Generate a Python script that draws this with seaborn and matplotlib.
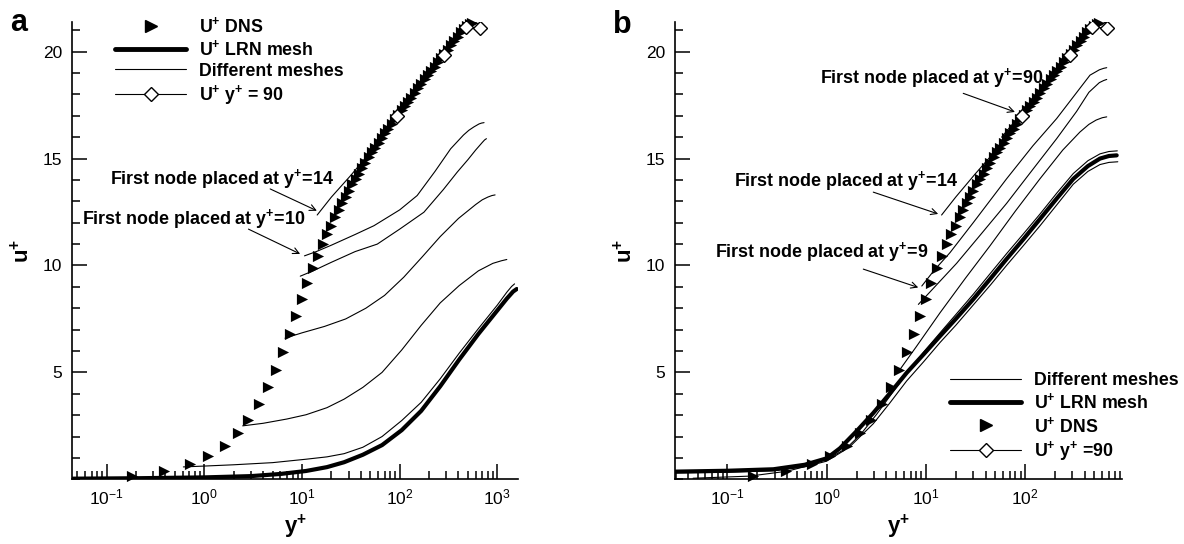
import matplotlib
matplotlib.use("Agg")
import matplotlib.pyplot as plt
import seaborn as sns
import pandas as pd
from matplotlib.lines import Line2D
from matplotlib.ticker import FixedLocator, MultipleLocator, LogLocator, NullFormatter, LogFormatterSciNotation

# ---------------- data ----------------
# DNS profile (same in both panels)
dns_y = [0.18, 0.39, 0.71, 1.09, 1.61, 2.19, 2.83, 3.6, 4.48, 5.4, 6.4, 7.6, 8.7, 10.0, 11.2,
         12.9, 14.5, 16.3, 18.1, 20.0, 22.0, 23.8, 25.7, 27.9, 30.2, 32.7, 35.3, 38.1, 41.2,
         44.5, 48.1, 52.0, 56.2, 60.7, 65.6, 70.9, 76.6, 82.8, 89.5, 96.7, 104.5, 113, 122,
         132, 143, 155, 167, 181, 195, 211, 228, 246, 266, 287, 310, 335, 362, 391, 422, 455,
         490, 525, 555]
dns_u = [0.17, 0.39, 0.70, 1.08, 1.57, 2.15, 2.78, 3.5, 4.3, 5.1, 5.95, 6.8, 7.66, 8.45, 9.2,
         9.86, 10.45, 11.0, 11.47, 11.86, 12.25, 12.6, 12.9, 13.2, 13.5, 13.8, 14.05, 14.3, 14.55,
         14.8, 15.05, 15.3, 15.5, 15.75, 15.95, 16.2, 16.4, 16.6, 16.85, 17.05, 17.25, 17.45, 17.65,
         17.85, 18.05, 18.3, 18.5, 18.7, 18.9, 19.1, 19.3, 19.5, 19.7, 19.9, 20.1, 20.3, 20.5, 20.7,
         20.9, 21.05, 21.2, 21.3, 21.35]

# U+ with first node at y+ = 90 (diamonds)
dia_y = [93, 282, 475, 663]
dia_u = [17.0, 19.82, 21.15, 21.1]

# ---- panel a ----
a_lrn_y = [0.045, 0.2, 1, 3, 6, 11, 18, 27, 42, 66, 105, 166, 260, 407, 640, 1000, 1250, 1450, 1580]
a_lrn_u = [0.03, 0.05, 0.09, 0.15, 0.25, 0.39, 0.57, 0.8, 1.15, 1.6, 2.3, 3.2, 4.35, 5.6, 6.8, 7.9, 8.45, 8.78, 8.9]

a_m14_y = [14.3, 20, 31.4, 50, 92, 150, 280, 400, 480, 550, 640]
a_m14_u = [12.36, 13.2, 14.2, 15.3, 17.1, 18.3, 19.9, 20.8, 21.25, 21.45, 21.3]
a_m10_y = [10.6, 14, 20, 35, 54.5, 100, 151, 230, 333, 450, 510, 575, 650, 690, 731]
a_m10_u = [10.45, 10.65, 10.95, 11.45, 11.86, 12.6, 13.27, 14.4, 15.46, 16.1, 16.32, 16.48, 16.62, 16.66, 16.68]
a_m9_y = [9.6, 13, 20, 35, 59, 100, 177, 280, 389, 500, 600, 700, 740, 773]
a_m9_u = [9.5, 9.75, 10.15, 10.65, 11.0, 11.7, 12.49, 13.55, 14.37, 14.95, 15.4, 15.75, 15.87, 15.93]
a_m7_y = [6.7, 10, 17, 28, 45, 70, 110, 170, 260, 400, 600, 700, 800, 880, 948]
a_m7_u = [6.6, 6.85, 7.15, 7.5, 8.0, 8.6, 9.45, 10.4, 11.35, 12.2, 12.85, 13.07, 13.2, 13.27, 13.3]
a_m2_y = [2.47, 4, 7, 11, 18, 27, 42, 66, 105, 166, 260, 407, 640, 900, 1100, 1250]
a_m2_u = [2.5, 2.62, 2.82, 3.02, 3.35, 3.75, 4.3, 5.0, 6.05, 7.2, 8.25, 9.06, 9.75, 10.1, 10.22, 10.28]
a_m06_y = [0.61, 1, 2, 5, 11, 18, 27, 42, 66, 105, 166, 260, 407, 640, 1000, 1250, 1400, 1500]
a_m06_u = [0.58, 0.62, 0.68, 0.78, 0.94, 1.05, 1.2, 1.5, 2.0, 2.75, 3.6, 4.7, 5.9, 7.05, 8.15, 8.75, 9.02, 9.14]

# ---- panel b ----
b_lrn_y = [0.03, 0.1, 0.29, 0.6, 1.0, 1.36, 2.0, 2.95, 4.3, 6.4, 9.5, 13.9, 20, 30, 45, 65, 95,
           141, 210, 306, 430, 569, 700, 838]
b_lrn_u = [0.36, 0.4, 0.47, 0.68, 0.98, 1.45, 2.25, 3.1, 4.0, 4.98, 5.85, 6.7, 7.5, 8.42, 9.4,
           10.3, 11.2, 12.17, 13.15, 14.05, 14.65, 15.0, 15.12, 15.15]

b_m90_y = [58, 95, 150, 284, 400, 487, 560, 650]
b_m90_u = [16.0, 17.2, 18.4, 19.95, 20.85, 21.3, 21.5, 21.35]
b_m14_y = [14.4, 20, 31, 50, 92, 150, 280, 400, 480, 560, 650]
b_m14_u = [12.36, 13.2, 14.25, 15.35, 17.15, 18.35, 19.95, 20.85, 21.3, 21.5, 21.35]
b_m9u_y = [9.1, 12, 17.5, 30, 65, 120, 208, 320, 451, 560, 620, 665]
b_m9u_u = [9.04, 9.75, 10.6, 12.0, 14.05, 15.6, 16.87, 18.0, 18.9, 19.15, 19.22, 19.25]
b_m9l_y = [8.4, 12, 20.4, 35, 65, 120, 208, 330, 440, 560, 620, 665]
b_m9l_u = [8.18, 8.95, 10.1, 11.4, 12.9, 14.5, 15.93, 17.2, 18.1, 18.55, 18.65, 18.7]
b_m5_y = [5.47, 8, 13.9, 25, 44.3, 80, 141, 240, 357, 440, 520, 600, 665]
b_m5_u = [5.13, 6.2, 7.79, 9.4, 10.92, 12.55, 14.05, 15.4, 16.24, 16.6, 16.8, 16.91, 16.95]
b_mlo_y = [0.045, 0.168, 0.4, 0.74, 1.13, 1.76, 2.95, 4.3, 6.4, 9.5, 13.9, 20, 30, 45, 65, 95,
           141, 210, 306, 430, 569, 700, 860]
b_mlo_u = [0.05, 0.15, 0.38, 0.7, 1.06, 1.58, 2.6, 3.55, 4.6, 5.5, 6.4, 7.2, 8.15, 9.1, 10.0,
           10.9, 11.85, 12.85, 13.8, 14.4, 14.72, 14.82, 14.85]
b_mhi_y = [0.03, 0.1, 0.3, 0.6, 1.0, 1.5, 2.2, 3.2, 4.6, 6.4, 9.5, 13.9, 20, 30, 45, 65, 95, 141,
           210, 306, 430, 569, 700, 850]
b_mhi_u = [0.3, 0.33, 0.4, 0.58, 0.85, 1.35, 2.1, 3.05, 4.05, 4.95, 5.95, 6.85, 7.7, 8.65, 9.65,
           10.55, 11.45, 12.4, 13.4, 14.3, 14.9, 15.22, 15.33, 15.36]

y_major = [5, 10, 15, 20]

# ---------------- style ----------------
sns.set_theme(style="ticks")
plt.rcParams["font.family"] = ["Liberation Sans", "DejaVu Sans"]
plt.rcParams["mathtext.fontset"] = "custom"
plt.rcParams["mathtext.rm"] = "Liberation Sans"
plt.rcParams["mathtext.it"] = "Liberation Sans:italic"
plt.rcParams["mathtext.bf"] = "Liberation Sans:bold"
plt.rcParams["axes.linewidth"] = 1.2
for key in ["text.color", "axes.labelcolor", "xtick.color", "ytick.color", "axes.edgecolor"]:
    plt.rcParams[key] = "black"

SUP = r"$^{\mathdefault{+}}$"

fig = plt.figure(figsize=(11.84, 5.44), dpi=100)
ax_a = fig.add_axes([0.0606, 0.1189, 0.3772, 0.8412])
ax_b = fig.add_axes([0.5701, 0.1189, 0.3773, 0.8412])

THIN = 0.8
THICK = 3.0


def mesh_frame(curves):
    return pd.concat([pd.DataFrame({"y": ys, "u": us, "curve": i}) for i, (ys, us) in enumerate(curves)],
                     ignore_index=True)


def style_axes(ax, xlim):
    ax.set_xscale("log")
    ax.set_xlim(*xlim)
    ax.set_ylim(0, 21.4)
    ax.yaxis.set_major_locator(FixedLocator(y_major))
    ax.yaxis.set_minor_locator(MultipleLocator(1))
    ax.xaxis.set_major_locator(LogLocator(base=10, numticks=20))
    ax.xaxis.set_minor_locator(LogLocator(base=10, subs=[2, 3, 4, 5, 6, 7, 8, 9], numticks=50))
    ax.xaxis.set_major_formatter(LogFormatterSciNotation())
    ax.xaxis.set_minor_formatter(NullFormatter())
    ax.tick_params(which="major", direction="in", length=11, width=1.1, labelsize=12.5, pad=6,
                   color="black", labelcolor="black")
    ax.tick_params(which="minor", direction="in", length=6, width=1.1, color="black")
    ax.tick_params(axis="y", which="major", labelsize=12.5, pad=7)
    for s in ["top", "right"]:
        ax.spines[s].set_visible(False)
    for s in ["left", "bottom"]:
        ax.spines[s].set_color("black")
    ax.set_xlabel("y" + SUP, fontsize=16, fontweight="bold", labelpad=4, color="black")
    ax.set_ylabel("u" + SUP, fontsize=16, fontweight="bold", labelpad=6, color="black")
    ax.grid(False)


def draw_common(ax, lrn_y, lrn_u, meshes):
    sns.lineplot(data=mesh_frame(meshes), x="y", y="u", units="curve", estimator=None, sort=False,
                 color="black", lw=THIN, ax=ax, legend=False)
    sns.lineplot(x=lrn_y, y=lrn_u, sort=False, color="black", lw=THICK, ax=ax, legend=False)
    sns.lineplot(x=dia_y, y=dia_u, sort=False, color="black", lw=THIN, ax=ax, legend=False,
                 marker="D", markersize=7, markerfacecolor="white", markeredgecolor="black",
                 markeredgewidth=1.0, zorder=5)
    sns.scatterplot(x=dns_y, y=dns_u, marker=">", s=65, color="black", edgecolor="black",
                    linewidth=0, ax=ax, legend=False, zorder=4, clip_on=False)


for ax, xl in [(ax_a, (0.0439, 1641)), (ax_b, (0.0296, 942))]:
    style_axes(ax, xl)

draw_common(ax_a, a_lrn_y, a_lrn_u,
            [(a_m14_y, a_m14_u), (a_m10_y, a_m10_u), (a_m9_y, a_m9_u), (a_m7_y, a_m7_u),
             (a_m2_y, a_m2_u), (a_m06_y, a_m06_u)])
draw_common(ax_b, b_lrn_y, b_lrn_u,
            [(b_m90_y, b_m90_u), (b_m14_y, b_m14_u), (b_m9u_y, b_m9u_u), (b_m9l_y, b_m9l_u),
             (b_m5_y, b_m5_u), (b_mlo_y, b_mlo_u), (b_mhi_y, b_mhi_u)])

# legends
h_dns = Line2D([], [], ls="none", marker=">", markersize=8, color="black")
h_lrn = Line2D([], [], color="black", lw=THICK + 0.5)
h_mesh = Line2D([], [], color="black", lw=THIN)
h_dia = Line2D([], [], color="black", lw=THIN, marker="D", markersize=7, markerfacecolor="white",
               markeredgecolor="black", markeredgewidth=1.0)

leg_kw = dict(frameon=False, handlelength=4.0, handletextpad=0.7, labelspacing=0.18,
              borderpad=0, borderaxespad=0, prop={"weight": "bold", "size": 12.8}, labelcolor="black")
ax_a.legend([h_dns, h_lrn, h_mesh, h_dia],
            ["U" + SUP + " DNS", "U" + SUP + " LRN mesh", "Different meshes", "U" + SUP + " y" + SUP + " = 90"],
            loc="upper left", bbox_to_anchor=(0.097, 1.012), **leg_kw)
ax_b.legend([h_mesh, h_lrn, h_dns, h_dia],
            ["Different meshes", "U" + SUP + " LRN mesh", "U" + SUP + " DNS", "U" + SUP + " y" + SUP + " =90"],
            loc="lower left", bbox_to_anchor=(0.6156, 0.036), **leg_kw)

# annotations
arrow_kw = dict(arrowstyle="->", lw=0.8, color="black", shrinkA=0, shrinkB=0, mutation_scale=11)
txt_kw = dict(fontsize=12.9, fontweight="bold", va="center", color="black")

ax_a.text(0.108, 14.05, "First node placed at y" + SUP + "=14", ha="left", **txt_kw)
ax_a.annotate("", xy=(14.2, 12.56), xytext=(4.72, 13.58), arrowprops=arrow_kw)
ax_a.text(0.0555, 12.17, "First node placed at y" + SUP + "=10", ha="left", **txt_kw)
ax_a.annotate("", xy=(9.57, 10.54), xytext=(2.83, 11.7), arrowprops=arrow_kw)

ax_b.text(152, 18.75, "First node placed at y" + SUP + "=90", ha="right", **txt_kw)
ax_b.annotate("", xy=(79, 17.18), xytext=(23.8, 18.05), arrowprops=arrow_kw)
ax_b.text(21.2, 13.97, "First node placed at y" + SUP + "=14", ha="right", **txt_kw)
ax_b.annotate("", xy=(13.3, 12.41), xytext=(2.95, 13.43), arrowprops=arrow_kw)
ax_b.text(10.6, 10.61, "First node placed at y" + SUP + "=9", ha="right", **txt_kw)
ax_b.annotate("", xy=(8.38, 8.97), xytext=(2.34, 9.83), arrowprops=arrow_kw)

# panel letters
fig.text(10 / 1184, 1 - 31 / 544, "a", fontsize=22, fontweight="bold", ha="left", va="baseline", color="black")
fig.text(613 / 1184, 1 - 33 / 544, "b", fontsize=22, fontweight="bold", ha="left", va="baseline", color="black")

fig.savefig("out.png", dpi=100)
